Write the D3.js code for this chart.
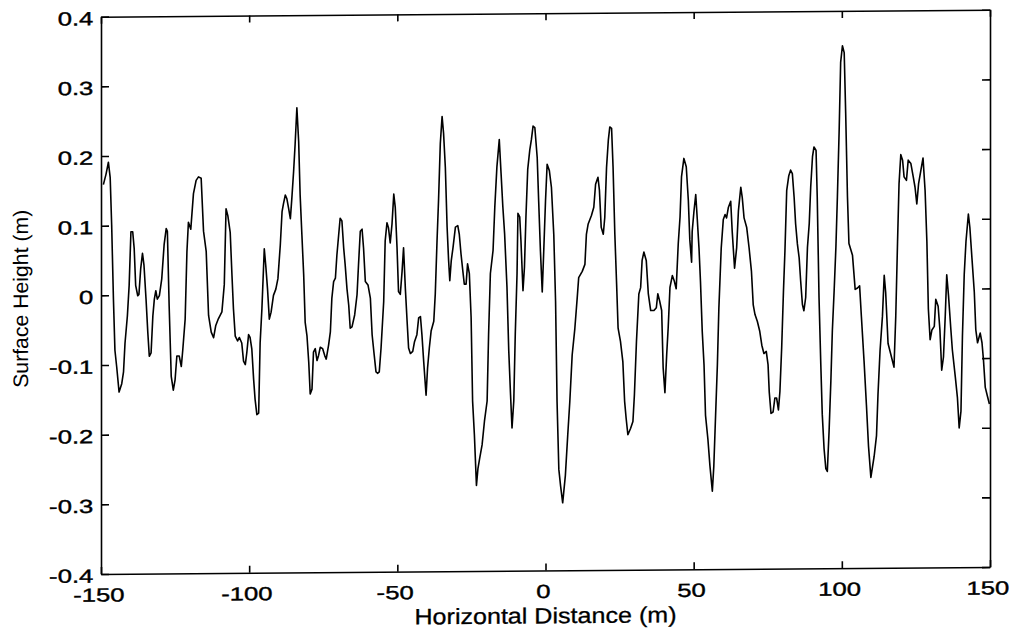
<!DOCTYPE html>
<html>
<head>
<meta charset="utf-8">
<script src="https://cdn.jsdelivr.net/npm/d3@7"></script>
<style>
  body { margin: 0; background: #fff; }
  svg text { font-family: "Liberation Sans", Arial, Helvetica, sans-serif; fill: #000; }
  .axis path, .axis line { stroke: #000; stroke-width: 1.6; }
</style>
</head>
<body>
<svg id="chart" width="1018" height="635"></svg>
<script>
// surface profile (m)
var distance = [
  -149.2, -148.3, -147.5, -146.9, -146.4, -145.8, -145.3, -144.7, -143.9, -143.0,
  -142.4, -141.9, -141.1, -140.5, -139.9, -139.3, -138.8, -138.3, -137.6, -137.2,
  -136.6, -136.0, -135.5, -134.8, -134.2, -133.7, -133.1, -132.5, -132.0, -131.5,
  -131.0, -130.3, -129.5, -128.7, -128.0, -127.6, -127.0, -126.3, -125.6, -125.0,
  -124.4, -123.6, -122.9, -122.4, -121.6, -121.0, -120.5, -119.7, -118.8, -117.9,
  -117.1, -116.2, -115.4, -114.5, -113.7, -112.8, -112.0, -111.3, -110.4, -109.2,
  -108.4, -107.8, -107.2, -106.4, -105.8, -105.3, -104.7, -103.9, -103.3, -102.5,
  -101.9, -101.3, -100.8, -100.2, -99.7, -99.1, -98.5, -98.0, -97.4, -96.8,
  -96.3, -95.7, -94.9, -94.4, -93.8, -93.2, -92.6, -91.8, -91.0, -90.3,
  -89.5, -88.9, -88.4, -87.8, -87.3, -86.7, -86.1, -85.6, -85.0, -84.5,
  -83.9, -83.3, -82.8, -82.2, -81.6, -81.1, -80.5, -79.9, -79.4, -78.8,
  -78.3, -77.7, -77.1, -76.6, -76.0, -75.2, -74.5, -74.0, -73.2, -72.6,
  -72.1, -71.5, -70.9, -70.4, -69.8, -69.3, -68.7, -68.1, -67.6, -67.0,
  -66.4, -65.9, -65.3, -64.4, -63.6, -63.1, -62.5, -61.9, -61.4, -60.8,
  -59.9, -59.1, -58.5, -57.8, -57.2, -56.6, -56.1, -55.5, -54.6, -54.1,
  -53.5, -53.0, -52.4, -51.8, -51.2, -50.7, -50.1, -49.6, -49.0, -48.4,
  -47.9, -47.3, -46.7, -46.2, -45.6, -44.8, -44.2, -43.4, -42.8, -42.2,
  -41.7, -41.1, -40.3, -39.8, -39.2, -38.6, -37.7, -37.2, -36.6, -36.1,
  -35.5, -34.9, -34.4, -33.8, -33.2, -32.7, -32.3, -31.8, -31.2, -30.4,
  -29.6, -29.1, -28.5, -27.9, -27.4, -26.8, -26.3, -25.7, -25.1, -24.6,
  -24.0, -23.3, -22.8, -22.2, -21.4, -20.6, -19.7, -19.2, -18.6, -17.7,
  -17.1, -16.4, -15.6, -15.0, -14.4, -13.8, -13.0, -12.4, -11.8, -11.3,
  -10.7, -10.2, -9.6, -9.3, -8.7, -8.3, -7.6, -7.1, -6.6, -6.0,
  -5.3, -4.75, -4.2, -3.6, -2.8, -2.3, -1.7, -1.1, -0.6, 0.0,
  0.55, 1.3, 2.0, 2.8, 3.4, 3.9, 4.5, 5.1, 5.8, 6.7,
  7.5, 8.2, 9.0, 9.9, 10.7, 11.2, 12.4, 13.3, 13.8, 14.4,
  15.5, 16.3, 16.9, 17.7, 18.2, 18.8, 19.5, 20.0, 20.6, 21.2,
  21.7, 22.3, 22.8, 23.4, 24.0, 24.5, 25.3, 26.1, 26.7, 27.2,
  27.8, 28.7, 29.5, 30.0, 30.7, 31.5, 32.1, 32.6, 33.2, 34.0,
  34.7, 35.5, 36.6, 37.4, 37.9, 38.5, 39.2, 39.7, 40.3, 40.9,
  41.4, 42.0, 42.8, 43.4, 44.1, 44.8, 45.4, 45.9, 46.7, 47.5,
  48.2, 48.7, 49.3, 49.5, 50.1, 50.7, 51.2, 51.8, 52.3, 52.9,
  53.5, 54.0, 54.8, 55.5, 56.3, 56.8, 57.4, 58.0, 58.5, 59.3,
  60.0, 60.6, 61.1, 61.7, 62.5, 63.0, 63.8, 64.5, 65.1, 65.9,
  66.4, 67.0, 67.9, 68.7, 69.5, 70.1, 70.7, 71.5, 72.3, 73.0,
  73.7, 74.5, 75.1, 75.5, 76.1, 76.8, 77.4, 78.0, 78.6, 79.1,
  79.7, 80.3, 80.8, 81.4, 82.1, 82.7, 83.3, 83.9, 84.4, 85.0,
  85.6, 86.1, 86.7, 87.2, 87.8, 88.4, 89.0, 89.5, 90.1, 90.6,
  91.3, 91.7, 92.3, 92.9, 93.4, 94.0, 94.6, 95.1, 95.7, 96.3,
  96.8, 97.4, 98.0, 98.5, 99.1, 99.6, 100.2, 100.8, 101.3, 101.9,
  102.4, 103.6, 104.5, 105.3, 106.0, 106.6, 107.5, 108.3, 109.0, 109.8,
  110.9, 111.7, 112.2, 112.9, 113.7, 114.3, 114.8, 115.6, 116.5, 117.6,
  118.2, 118.8, 119.3, 119.9, 120.5, 121.0, 121.8, 122.4, 123.3, 124.1,
  124.7, 125.3, 125.9, 126.7, 127.4, 128.1, 128.7, 129.2, 129.8, 130.4,
  131.2, 131.7, 132.5, 133.1, 133.7, 134.3, 134.9, 135.4, 136.0, 136.8,
  137.3, 138.3, 139.0, 139.6, 140.2, 140.7, 141.3, 141.9, 142.7, 143.2,
  143.9, 144.7, 145.2, 145.8, 146.7, 147.3, 147.8, 148.4, 149.2, 149.8
];

var height = [
  0.159, 0.174, 0.191, 0.169, 0.101, -0.006, -0.079, -0.103, -0.139, -0.127,
  -0.110, -0.069, -0.030, 0.014, 0.091, 0.091, 0.067, 0.014, -0.001, 0.001,
  0.038, 0.060, 0.043, -0.006, -0.054, -0.088, -0.083, -0.030, -0.006, 0.006,
  -0.006, -0.001, 0.023, 0.072, 0.095, 0.091, -0.016, -0.117, -0.137, -0.122,
  -0.088, -0.088, -0.103, -0.079, -0.035, 0.062, 0.104, 0.094, 0.145, 0.164,
  0.169, 0.167, 0.091, 0.062, -0.030, -0.054, -0.062, -0.045, -0.035, -0.025,
  0.014, 0.123, 0.113, 0.089, 0.027, -0.021, -0.060, -0.067, -0.062, -0.070,
  -0.096, -0.101, -0.084, -0.058, -0.062, -0.079, -0.122, -0.151, -0.173, -0.171,
  -0.070, -0.021, 0.065, 0.041, 0.007, -0.036, -0.026, -0.002, 0.007, 0.022,
  0.070, 0.118, 0.130, 0.142, 0.137, 0.123, 0.108, 0.137, 0.176, 0.214,
  0.267, 0.219, 0.142, 0.084, 0.027, -0.041, -0.060, -0.098, -0.144, -0.137,
  -0.084, -0.079, -0.096, -0.089, -0.077, -0.079, -0.089, -0.094, -0.074, -0.055,
  -0.007, 0.017, 0.022, 0.055, 0.084, 0.108, 0.104, 0.065, 0.041, 0.007,
  -0.017, -0.050, -0.048, -0.031, -0.002, 0.041, 0.089, 0.092, 0.065, 0.017,
  0.012, -0.007, -0.060, -0.089, -0.113, -0.115, -0.113, -0.079, -0.012, 0.075,
  0.101, 0.094, 0.072, 0.099, 0.142, 0.123, 0.065, 0.002, -0.002, 0.031,
  0.065, 0.007, -0.041, -0.079, -0.087, -0.084, -0.070, -0.060, -0.036, -0.034,
  -0.060, -0.099, -0.147, -0.108, -0.079, -0.055, -0.041, -0.002, 0.075, 0.132,
  0.214, 0.253, 0.229, 0.180, 0.094, 0.046, 0.017, 0.046, 0.065, 0.094,
  0.096, 0.084, 0.055, 0.031, 0.012, 0.012, 0.041, 0.027, -0.036, -0.156,
  -0.204, -0.277, -0.253, -0.238, -0.219, -0.185, -0.156, -0.060, 0.027, 0.060,
  0.123, 0.180, 0.219, 0.171, 0.123, 0.084, 0.007, -0.084, -0.147, -0.195,
  -0.156, -0.060, 0.027, 0.113, 0.108, 0.075, 0.002, 0.036, 0.108, 0.176,
  0.204, 0.219, 0.238, 0.236, 0.193, 0.130, 0.058, 0.000, 0.058, 0.130,
  0.183, 0.174, 0.150, 0.082, -0.014, -0.158, -0.255, -0.279, -0.303, -0.264,
  -0.206, -0.158, -0.091, -0.053, -0.009, 0.020, 0.029, 0.039, 0.082, 0.097,
  0.109, 0.121, 0.154, 0.164, 0.145, 0.092, 0.082, 0.106, 0.178, 0.217,
  0.236, 0.234, 0.178, 0.082, 0.010, -0.053, -0.072, -0.101, -0.158, -0.182,
  -0.206, -0.197, -0.187, -0.149, -0.072, -0.004, 0.005, 0.044, 0.056, 0.044,
  -0.004, -0.028, -0.028, -0.024, -0.004, -0.014, -0.028, -0.110, -0.146, -0.091,
  -0.053, 0.005, 0.022, 0.015, 0.003, 0.068, 0.106, 0.164, 0.190, 0.178,
  0.130, 0.073, 0.041, 0.085, 0.114, 0.138, 0.104, 0.061, 0.013, -0.059,
  -0.107, -0.179, -0.213, -0.252, -0.288, -0.252, -0.179, -0.107, -0.026, 0.061,
  0.102, 0.109, 0.104, 0.119, 0.128, 0.085, 0.032, 0.061, 0.114, 0.148,
  0.133, 0.104, 0.090, 0.061, 0.027, -0.021, -0.035, -0.045, -0.059, -0.079,
  -0.091, -0.088, -0.107, -0.146, -0.177, -0.175, -0.155, -0.155, -0.172, -0.146,
  -0.083, -0.002, 0.056, 0.143, 0.164, 0.172, 0.167, 0.133, 0.095, 0.066,
  0.046, 0.013, -0.021, -0.030, -0.011, 0.061, 0.095, 0.148, 0.191, 0.205,
  0.200, 0.133, -0.011, -0.107, -0.179, -0.228, -0.257, -0.261, -0.203, -0.131,
  -0.059, -0.002, 0.061, 0.133, 0.229, 0.326, 0.350, 0.340, 0.253, 0.133,
  0.066, 0.049, 0.000, 0.002, 0.005, -0.039, -0.103, -0.166, -0.225, -0.270,
  -0.240, -0.210, -0.151, -0.088, -0.039, 0.020, -0.005, -0.078, -0.093, -0.112,
  -0.039, 0.068, 0.151, 0.193, 0.185, 0.161, 0.156, 0.185, 0.180, 0.161,
  0.146, 0.122, 0.151, 0.171, 0.188, 0.141, 0.068, -0.029, -0.073, -0.059,
  -0.054, -0.015, -0.025, -0.059, -0.117, -0.098, -0.039, 0.020, -0.010, -0.059,
  -0.088, -0.127, -0.156, -0.200, -0.176, -0.068, 0.020, 0.068, 0.107, 0.088,
  0.044, -0.005, -0.059, -0.078, -0.064, -0.078, -0.103, -0.142, -0.156, -0.166
];

var xTicks = [-150, -100, -50, 0, 50, 100, 150];
var xTickLabels = ["-150", "-100", "-50", "0", "50", "100", "150"];
var yTicks = [-0.4, -0.3, -0.2, -0.1, 0, 0.1, 0.2, 0.3, 0.4];
var yTickLabels = ["-0.4", "-0.3", "-0.2", "-0.1", "0", "0.1", "0.2", "0.3", "0.4"];

// plot box (window.top is taken, so no bare "top")
var boxLeft = 101, boxRight = 990, boxTop = 17.5, boxBottom = 574.8;

var svg = d3.select("#chart");
svg.append("rect").attr("width", 1018).attr("height", 635).attr("fill", "#fff");

// the scanned page is slightly sheared, so tilt the whole figure a bit
var g = svg.append("g").attr("transform", "skewY(-0.45)");

var x = d3.scaleLinear().domain([-150, 150]).range([boxLeft, boxRight]);
var y = d3.scaleLinear().domain([-0.4, 0.4]).range([boxBottom, boxTop]);

// ticks point inwards on all four sides (matlab box)
var xAxis = g.append("g")
  .attr("class", "axis")
  .attr("transform", "translate(0," + boxBottom + ")")
  .call(d3.axisBottom(x).tickValues(xTicks).tickSizeInner(-7).tickSizeOuter(0).tickPadding(14)
    .tickFormat(function(d, i) { return xTickLabels[i]; }));

g.append("g")
  .attr("class", "axis")
  .attr("transform", "translate(0," + boxTop + ")")
  .call(d3.axisTop(x).tickValues(xTicks).tickSizeInner(-7).tickSizeOuter(0).tickFormat(""));

var yAxis = g.append("g")
  .attr("class", "axis")
  .attr("transform", "translate(" + boxLeft + ",0)")
  .call(d3.axisLeft(y).tickValues(yTicks).tickSizeInner(-8).tickSizeOuter(0).tickPadding(5.7)
    .tickFormat(function(d, i) { return yTickLabels[i]; }));

g.append("g")
  .attr("class", "axis")
  .attr("transform", "translate(" + boxRight + ",0)")
  .call(d3.axisRight(y).tickValues(yTicks).tickSizeInner(-8).tickSizeOuter(0).tickFormat(""));

// tick labels in the scan are much wider and heavier than plain helvetica
g.selectAll(".axis text")
  .attr("font-size", 19)
  .attr("font-family", "Liberation Sans, Arial, sans-serif")
  .attr("fill", "#000")
  .attr("stroke", "#000")
  .attr("stroke-width", 0.4)
  .attr("transform", "scale(1.35,1)");

xAxis.selectAll("text").attr("x", -2);
yAxis.selectAll("text").attr("dy", "0.42em");

var line = d3.line()
  .x(function(d, i) { return x(distance[i]); })
  .y(function(d, i) { return y(height[i]); });

g.append("path")
  .datum(height)
  .attr("fill", "none")
  .attr("stroke", "#000")
  .attr("stroke-width", 1.6)
  .attr("stroke-linejoin", "round")
  .attr("d", line);

g.append("text")
  .attr("x", 545.5)
  .attr("y", 627.6)
  .attr("text-anchor", "middle")
  .attr("font-size", 22)
  .attr("stroke", "#000")
  .attr("stroke-width", 0.3)
  .attr("textLength", 262)
  .attr("lengthAdjust", "spacingAndGlyphs")
  .text("Horizontal Distance (m)");

g.append("text")
  .attr("transform", "translate(28,299) rotate(-90)")
  .attr("text-anchor", "middle")
  .attr("font-size", 21)
  .attr("textLength", 178)
  .attr("lengthAdjust", "spacingAndGlyphs")
  .text("Surface Height (m)");
</script>
</body>
</html>
